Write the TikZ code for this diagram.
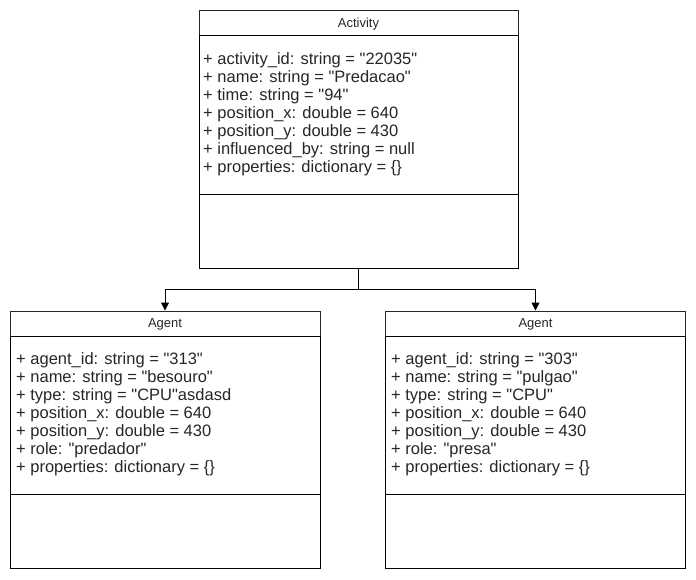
\documentclass[tikz,border=0pt]{standalone}
\usepackage{fontspec}
\setmainfont{Liberation Sans}[Ligatures=TeXOff]
\usetikzlibrary{arrows.meta}
\tikzset{
  umlpart/.style={draw, line width=1pt, inner sep=0pt, minimum width=#1},
  umlhead/.style={font=\fontsize{13}{15}\selectfont, color=black!85, text depth=0pt},
  umlattr/.style={anchor=north west, align=left, inner sep=0pt, font=\fontsize{16.5}{18}\selectfont, color=black!85},
  umlarrow/.style={line width=1pt, -{Triangle[length=8pt,width=8pt]}}
}

\begin{document}
\begin{tikzpicture}[x=1pt,y=-1pt]
\useasboundingbox (0,0) rectangle (696,579);

% activity class
\node[umlpart=319, minimum height=25, umlhead] (acthead) at (358.5,23) {Activity};
\node[umlpart=319, minimum height=159] (actattr) at (358.5,114.5) {};
\node[umlpart=319, minimum height=74] (actops) at (358.5,231) {};
\node[umlattr] (acttxt) at (203,52) {+ activity\_id: string = "22035"\\+ name: string = "Predacao"\\+ time: string = "94"\\+ position\_x: double = 640\\+ position\_y: double = 430\\+ influenced\_by: string = null\\+ properties: dictionary = \{\}};

% agent classes
\node[umlpart=310, minimum height=25, umlhead] (aghead1) at (165,323.5) {Agent};
\node[umlpart=310, minimum height=158] (agattr1) at (165,415) {};
\node[umlpart=310, minimum height=74] (agops1) at (165,531) {};
\node[umlattr] (agtxt1) at (16,352) {+ agent\_id: string = "313"\\+ name: string = "besouro"\\+ type: string = "CPU"asdasd\\+ position\_x: double = 640\\+ position\_y: double = 430\\+ role: "predador"\\+ properties: dictionary = \{\}};

\node[umlpart=300, minimum height=25, umlhead] (aghead2) at (535.5,323.5) {Agent};
\node[umlpart=300, minimum height=158] (agattr2) at (535.5,415) {};
\node[umlpart=300, minimum height=74] (agops2) at (535.5,531) {};
\node[umlattr] (agtxt2) at (391,352) {+ agent\_id: string = "303"\\+ name: string = "pulgao"\\+ type: string = "CPU"\\+ position\_x: double = 640\\+ position\_y: double = 430\\+ role: "presa"\\+ properties: dictionary = \{\}};

% links
\coordinate (split) at (358.5,289);
\draw[line width=1pt] (actops.south) -- (split);
\draw[umlarrow] (split) -| (aghead1.north);
\draw[umlarrow] (split) -| (aghead2.north);
\end{tikzpicture}
\end{document}
